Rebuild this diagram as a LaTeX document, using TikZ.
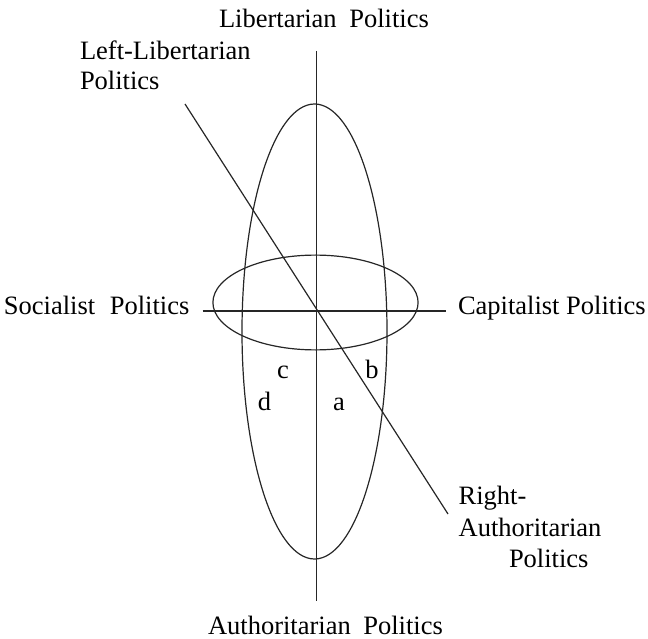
\documentclass[tikz,border=0pt]{standalone}
\usepackage{fontspec}
\setmainfont{Liberation Serif}
\begin{document}
\begin{tikzpicture}[x=1pt,y=-1pt,
  lbl/.style={inner sep=0pt,outer sep=0pt,font=\fontsize{26.5}{30}\selectfont},
  lw/.style={anchor=base west},
  lc/.style={anchor=base},
  ln/.style={line width=1.2pt,black!85}]
\useasboundingbox (0,0) rectangle (648,639);
% axes coordinates
\coordinate (vtop) at (316.5,51);
\coordinate (vbot) at (316.5,601);
\coordinate (hl) at (202.5,311);
\coordinate (hr) at (445.5,311);
\coordinate (dtop) at (185,104);
\coordinate (dbot) at (448,514);
% ellipses
\draw[ln] (314.5,331.5) ellipse [x radius=72.5, y radius=227.5];
\draw[ln] (315.5,302.5) ellipse [x radius=102.6, y radius=47.4];
% lines
\draw[ln] (vtop) -- (vbot);
\draw[ln] (hl) -- (hr);
\draw[ln] (dtop) -- (dbot);
% labels
\node[lbl,lw] (lib) at (219,27.5) {Libertarian\hspace{6pt} Politics};
\node[lbl,lw] (ll1) at (80,60) {Left-Libertarian};
\node[lbl,lw] (ll2) at (80,90) {Politics};
\node[lbl,lw] (soc) at (4,314) {Socialist\hspace{8pt} Politics};
\node[lbl,lw] (cap) at (458,314) {Capitalist Politics};
\node[lbl,lw] (ra1) at (458.7,504) {Right-};
\node[lbl,lw] (ra2) at (458.7,536.5) {Authoritarian};
\node[lbl,lw] (ra3) at (509,567) {Politics};
\node[lbl,lw] (aut) at (208,634.5) {Authoritarian\hspace{6pt} Politics};
\node[lbl,lc] (c) at (283,378) {c};
\node[lbl,lc] (b) at (372,378) {b};
\node[lbl,lc] (d) at (264.5,410) {d};
\node[lbl,lc] (a) at (339,410) {a};
\end{tikzpicture}
\end{document}
